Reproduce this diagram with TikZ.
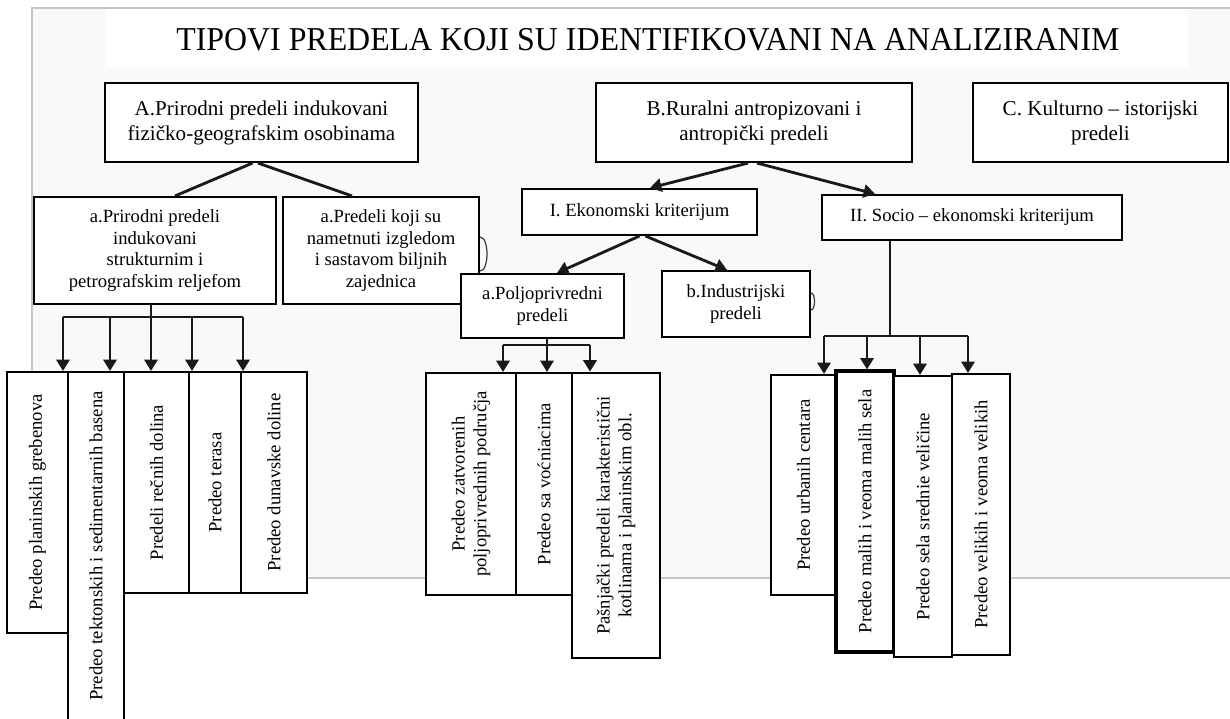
\documentclass[tikz,border=0pt]{standalone}
\usepackage{fontspec}
\setmainfont{Liberation Serif}
\usepackage{tikz}
\usetikzlibrary{arrows.meta}
\definecolor{panelbg}{RGB}{250,249,247}
\definecolor{panelrule}{RGB}{200,198,195}
\definecolor{inkline}{RGB}{25,25,25}

\begin{document}
\begin{tikzpicture}[x=0.02cm, y=-0.02cm,
  box/.style={draw, line width=1.2pt, fill=white, align=center, inner sep=0pt, font=\fontsize{10.6}{12.3}\selectfont},
  topbox/.style={box, font=\fontsize{12}{14.2}\selectfont},
  leaf/.style={box, rotate=90},
  link/.style={draw=inkline, line width=1.6pt},
  arr/.style={link, -{Triangle[length=6.5pt, width=7.5pt]}},
  nub/.style={draw=black!75, line width=0.7pt}]
  \useasboundingbox (0,0) rectangle (1230,718);
  % page behind the chart
  \fill[panelbg] (32,8) rectangle (1230,578);
  \draw[panelrule, line width=0.6pt] (1230,8) -- (32,8) -- (32,578) -- (1230,578);
  \fill[white] (106,9) rectangle (1188,67);
  \node[anchor=base, xscale=0.955] (title) at (648,50) {\fontsize{19}{21}\selectfont TIPOVI PREDELA KOJI SU IDENTIFIKOVANI NA ANALIZIRANIM};

  % main groups
  \node[topbox, minimum width=6.26cm, minimum height=1.58cm] (A) at (261.5,122.5) {A.Prirodni predeli indukovani\\fizičko-geografskim osobinama};
  \node[topbox, minimum width=6.32cm, minimum height=1.58cm] (B) at (754,122.5) {B.Ruralni antropizovani i\\antropički predeli};
  \node[topbox, minimum width=5.10cm, minimum height=1.58cm] (C) at (1100.5,122.5) {C. Kulturno -- istorijski\\predeli};

  % second level
  \node[box, minimum width=4.84cm, minimum height=2.14cm] (a1) at (155,250.5) {a.Prirodni predeli\\indukovani\\strukturnim i\\petrografskim reljefom};
  \node[box, minimum width=3.92cm, minimum height=2.14cm] (a2) at (381,250.5) {a.Predeli koji su\\nametnuti izgledom\\i sastavom biljnih\\zajednica};
  \node[box, minimum width=4.70cm, minimum height=0.92cm] (eko) at (639.5,212) {I. Ekonomski kriterijum};
  \node[box, minimum width=6.00cm, minimum height=0.90cm] (soc) at (972,217.5) {II. Socio -- ekonomski kriterijum};
  \node[box, minimum width=3.26cm, minimum height=1.28cm] (polj) at (542.5,306) {a.Poljoprivredni\\predeli};
  \node[box, minimum width=2.96cm, minimum height=1.32cm] (ind) at (736,304) {b.Industrijski\\predeli};

  % leaves under a1
  \node[leaf, minimum width=5.22cm, minimum height=1.22cm] (L1) at (37.5,502.5) {Predeo planinskih grebenova};
  \node[leaf, minimum width=6.96cm, minimum height=1.12cm] (L2) at (96,546) {Predeo tektonskih i sedimentarnih basena};
  \node[leaf, minimum width=4.42cm, minimum height=1.30cm] (L3) at (156.5,482.5) {Predeli rečnih dolina};
  \node[leaf, minimum width=4.42cm, minimum height=1.04cm] (L4) at (215,482.5) {Predeo terasa};
  \node[leaf, minimum width=4.42cm, minimum height=1.32cm] (L5) at (274,482.5) {Predeo dunavske doline};

  % leaves under polj
  \node[leaf, minimum width=4.44cm, minimum height=1.80cm] (P1) at (471,484) {Predeo zatvorenih\\poljoprivrednih područja};
  \node[leaf, minimum width=4.44cm, minimum height=1.12cm] (P2) at (544,484) {Predeo sa voćniacima};
  \node[leaf, line width=1.6pt, minimum width=5.70cm, minimum height=1.76cm] (P3) at (616,515.5) {Pašnjački predeli karakteristični\\kotlinama i planinskim obl.};

  % leaves under soc
  \node[leaf, minimum width=4.40cm, minimum height=1.30cm] (S1) at (803.5,485) {Predeo urbanih centara};
  \node[leaf, line width=1.8pt, minimum width=5.62cm, minimum height=1.16cm] (S2) at (865,511.5) {Predeo malih i veoma malih sela};
  \node[leaf, minimum width=5.62cm, minimum height=1.16cm] (S3) at (923,516.5) {Predeo sela srednie veličine};
  \node[leaf, minimum width=5.62cm, minimum height=1.16cm] (S4) at (981,514.5) {Predeo velikih i veoma velikih};

  % connectors
  \draw[link] ([xshift=-0.18cm]A.south) -- ([xshift=0.40cm]a1.north);
  \draw[link] ([xshift=-0.07cm]A.south) -- ([xshift=-0.58cm]a2.north);
  \draw[arr] ([xshift=-0.12cm]B.south) -- ([xshift=0.21cm]eko.north);
  \draw[arr] ([xshift=0.06cm]B.south) -- ([xshift=-1.94cm]soc.north);
  \draw[arr] (eko.south) -- ([xshift=0.29cm]polj.north);
  \draw[arr] ([xshift=0.12cm]eko.south) -- ([xshift=-0.18cm]ind.north);

  % bus under a1
  \draw[link] (a1.south -| 151,0) -- (151,317);
  \draw[link] (63,317) -- (243,317);
  \foreach \x/\b in {63/L1,110/L2,151/L3,192/L4,243/L5}
    \draw[arr] (\x,317) -- (\x,317 |- \b.east);

  % bus under polj
  \draw[link] (polj.south -| 547,0) -- (547,345);
  \draw[link] (503,345) -- (590,345);
  \foreach \x/\b in {503/P1,547/P2,590/P3}
    \draw[arr] (\x,345) -- (\x,345 |- \b.east);

  % bus under soc
  \draw[link] (soc.south -| 890,0) -- (890,336);
  \draw[link] (824,336) -- (968,336);
  \foreach \x/\b in {824/S1,867/S2,920/S3,968/S4}
    \draw[arr] (\x,336) -- (\x,336 |- \b.east);

  % small arcs on box sides
  \draw[nub] (a2.east |- 0,237) to[out=0, in=0, looseness=0.7] (a2.east |- 0,271);
  \draw[nub] (ind.east |- 0,293) to[out=0, in=0, looseness=0.7] (ind.east |- 0,310);
\end{tikzpicture}
\end{document}
